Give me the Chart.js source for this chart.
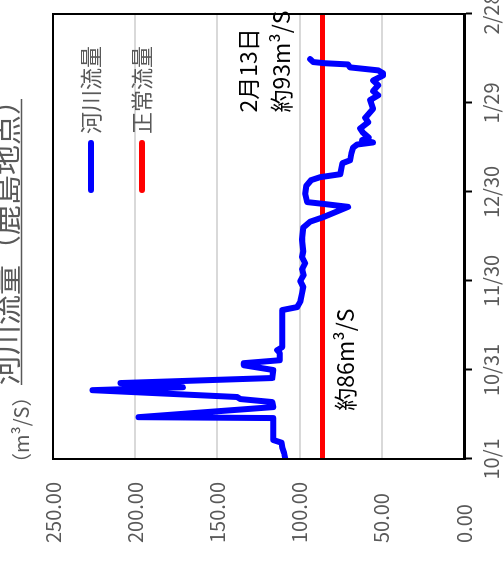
<!DOCTYPE html>
<html>
<head>
<meta charset="utf-8">
<script src="https://cdn.jsdelivr.net/npm/chart.js@4.4.6/dist/chart.umd.min.js"></script>
<style>
  html, body { margin: 0; padding: 0; background: #fff; overflow: hidden; }
  #wrap { position: relative; width: 504px; height: 562px; overflow: hidden; }
  /* the chart is drawn upright and then turned a quarter turn to the left */
  #chart { position: absolute; left: 0; top: 0; transform-origin: 0 0; transform: translate(0, 562px) rotate(-90deg); }
</style>
</head>
<body>
<div id="wrap"><canvas id="chart" width="562" height="504"></canvas></div>
<script>
const FONT = '"Noto Sans CJK JP", "Noto Sans", sans-serif';
const GREY = '#595959';

/* data (day 0 = 10/1) */
const tickLabels = ['10/1', '10/31', '11/30', '12/30', '1/29', '2/28'];
const seriesNames = ['河川流量', '正常流量'];

const flowDays = [0, 2, 4, 5.5, 6.4, 13.8, 14.1, 17.5, 19.2, 20.2, 20.9, 23.2, 24.2, 25.6, 27.3, 30,
  31.6, 32.3, 33.3, 35.7, 36.7, 37.7, 50.2, 51.2, 53, 56, 58, 60, 62, 64, 66, 68, 70, 74, 78,
  80, 81.5, 85, 86, 86.6, 89.5, 92, 94, 95, 96, 99.7, 100.7, 103, 105, 106, 106.7, 107.5, 108.4,
  110, 111.4, 113.5, 115, 118, 121, 122.6, 124, 126, 127.6, 129.3, 130, 131, 132, 133, 133.4, 133.8, 134.8];
const flowValues = [108.7, 109.4, 110.6, 111, 116, 116, 198, 116, 116.6, 136, 138, 226, 171, 209, 116.6, 116,
  134, 134, 112, 112, 113.6, 110.6, 110.6, 101.5, 99.6, 98.5, 97.8, 99.6, 97.5, 98.5, 96.6, 98.5, 97.8, 98.5, 97.8,
  93.6, 85.7, 70.5, 85.7, 95.4, 96.6, 96, 93, 87.5, 75.3, 74, 69.3, 68.5, 67.4, 65, 55.3, 62, 58,
  61.4, 63.2, 58.3, 60.1, 55.3, 57.1, 52.2, 55.3, 52.2, 55.3, 49.2, 49.2, 52.2, 69.3, 70.5, 84.4, 91.7, 93.6];

const normalDays = [0, 150];
const normalValues = [86, 86];

const toPoints = (xs, ys) => xs.map((x, i) => ({ x: x, y: ys[i] }));

// frame, title, unit, legend and notes
const decorations = {
  id: 'decorations',
  afterDatasetsDraw(chart) {
    const { ctx, chartArea: a } = chart;
    ctx.save();
    ctx.strokeStyle = '#000';
    ctx.lineWidth = 2;
    ctx.strokeRect(a.left, a.top, a.right - a.left, a.bottom - a.top);
    ctx.restore();
  },
  afterDraw(chart) {
    const { ctx, chartArea: a, scales } = chart;
    ctx.save();

    // title, underlined
    ctx.fillStyle = GREY;
    ctx.font = '30px ' + FONT;
    ctx.textAlign = 'left';
    ctx.textBaseline = 'alphabetic';
    const title = '河川流量（鹿島地点）';
    ctx.fillText(title, 177, 17);
    const tw = ctx.measureText(title).width;
    ctx.strokeStyle = GREY;
    ctx.lineWidth = 1.5;
    ctx.beginPath();
    ctx.moveTo(177, 21.5);
    ctx.lineTo(177 + tw - 14, 21.5);
    ctx.stroke();

    // unit, ink starting at the left edge of the plot
    const unit = '（m³/S）';
    ctx.font = '20px ' + FONT;
    ctx.textBaseline = 'middle';
    const m = ctx.measureText(unit);
    ctx.fillText(unit, a.left - 1 + m.actualBoundingBoxLeft, 21);

    // legend
    chart.data.datasets.forEach((ds, i) => {
      const v = a.top + 38 + i * 51;
      ctx.strokeStyle = ds.borderColor;
      ctx.lineWidth = 6;
      ctx.lineCap = 'round';
      ctx.beginPath();
      ctx.moveTo(a.left + 269, v);
      ctx.lineTo(a.left + 316, v);
      ctx.stroke();
      ctx.fillStyle = GREY;
      ctx.font = '22px ' + FONT;
      ctx.textBaseline = 'middle';
      ctx.fillText(ds.label, a.left + 325, v);
    });

    // notes
    const x = scales.x, y = scales.y;
    ctx.fillStyle = '#000';
    ctx.font = '23px ' + FONT;
    ctx.textBaseline = 'middle';
    ctx.fillText('2月13日', x.getPixelForValue(116.8), y.getPixelForValue(131));
    ctx.fillText('約93m³/S', x.getPixelForValue(116.8), y.getPixelForValue(111.4));
    ctx.fillText('約86m³/S', x.getPixelForValue(16.3), y.getPixelForValue(72.3));
    ctx.restore();
  }
};

new Chart(document.getElementById('chart'), {
  type: 'line',
  data: {
    datasets: [
      {
        label: seriesNames[0],
        data: toPoints(flowDays, flowValues),
        borderColor: '#0000ff',
        borderWidth: 6,
        borderCapStyle: 'round',
        borderJoinStyle: 'round',
        pointRadius: 0,
        tension: 0
      },
      {
        label: seriesNames[1],
        data: toPoints(normalDays, normalValues),
        borderColor: '#ff0000',
        borderWidth: 5,
        pointRadius: 0
      }
    ]
  },
  options: {
    responsive: false,
    animation: false,
    devicePixelRatio: 1,
    layout: { padding: { top: 53, right: 14, left: 19, bottom: 0 } },
    plugins: {
      legend: { display: false },
      title: { display: false },
      tooltip: { enabled: false }
    },
    scales: {
      x: {
        type: 'linear',
        min: 0,
        max: 150,
        ticks: {
          stepSize: 30,
          autoSkip: false,
          maxRotation: 0,
          padding: 7,
          color: GREY,
          font: { family: FONT, size: 20 },
          callback: (v) => tickLabels[Math.round(v / 30)]
        },
        grid: { drawOnChartArea: false, drawTicks: true, tickLength: 8, tickWidth: 2, tickColor: '#000' },
        border: { color: '#000', width: 3 },
        afterFit(axis) {
          axis.height = 40;
          axis.paddingLeft = 0;
          axis.paddingRight = 0;
        }
      },
      y: {
        min: 0,
        max: 250,
        ticks: {
          stepSize: 50,
          crossAlign: 'far',
          padding: 0,
          color: GREY,
          font: { family: FONT, size: 20 },
          callback: (v) => v.toFixed(2)
        },
        grid: { color: '#d9d9d9', lineWidth: 2, drawTicks: false },
        border: { color: '#000', width: 2 },
        afterFit(axis) {
          axis.width = 84;
          axis.paddingTop = 0;
          axis.paddingBottom = 0;
        }
      }
    }
  },
  plugins: [decorations]
});
</script>
</body>
</html>
